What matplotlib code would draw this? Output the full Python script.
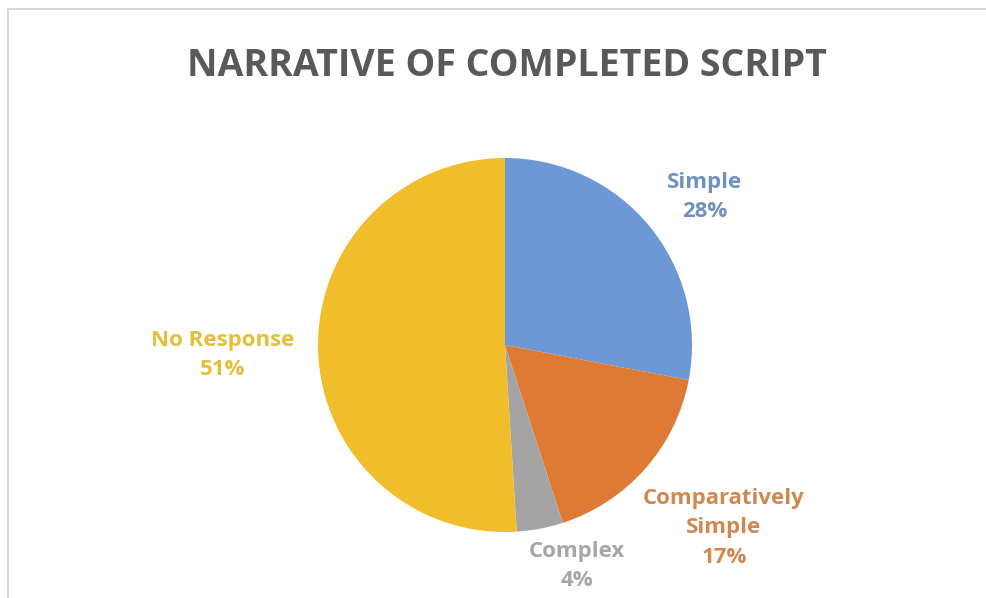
import matplotlib.pyplot as plt
from matplotlib.patches import Rectangle

categories = ["Simple", "Comparatively\nSimple", "Complex", "No Response"]
shares = [28, 17, 4, 51]
slice_colors = ["#6D98D6", "#DE7A34", "#A4A4A4", "#EFBE2A"]
label_colors = ["#7090C0", "#CF8852", "#A6A6A6", "#E4C038"]
# label anchor points, in pixels from top-left of the picture
label_pos = [(705, 197), (724, 528), (577, 566), (223, 355)]

W, H = 987, 598
fig = plt.figure(figsize=(W / 100, H / 100), dpi=100)
ax = fig.add_axes([0, 0, 1, 1])

# light chart frame
ax.add_patch(Rectangle((8, -10), W + 20, H - 9 + 10, fill=False,
                       edgecolor="#D8D8D8", linewidth=1.5))

ax.pie(shares, colors=slice_colors, startangle=90, counterclock=False,
       center=(505, H - 345), radius=187, frame=True,
       wedgeprops=dict(linewidth=0))
ax.set_xlim(0, W)
ax.set_ylim(0, H)
ax.set_aspect("equal")
ax.axis("off")

for name, val, col, (x, y) in zip(categories, shares, label_colors, label_pos):
    ax.text(x, H - y, f"{name}\n{val}%", color=col, ha="center", va="center",
            fontsize=16, fontweight="bold", family="Open Sans",
            linespacing=1.55)

ax.text(507, H - 66, "NARRATIVE OF COMPLETED SCRIPT", color="#595959",
        ha="center", va="center", fontsize=27, fontweight="bold",
        family="Open Sans")

fig.savefig("out.png", dpi=100)
